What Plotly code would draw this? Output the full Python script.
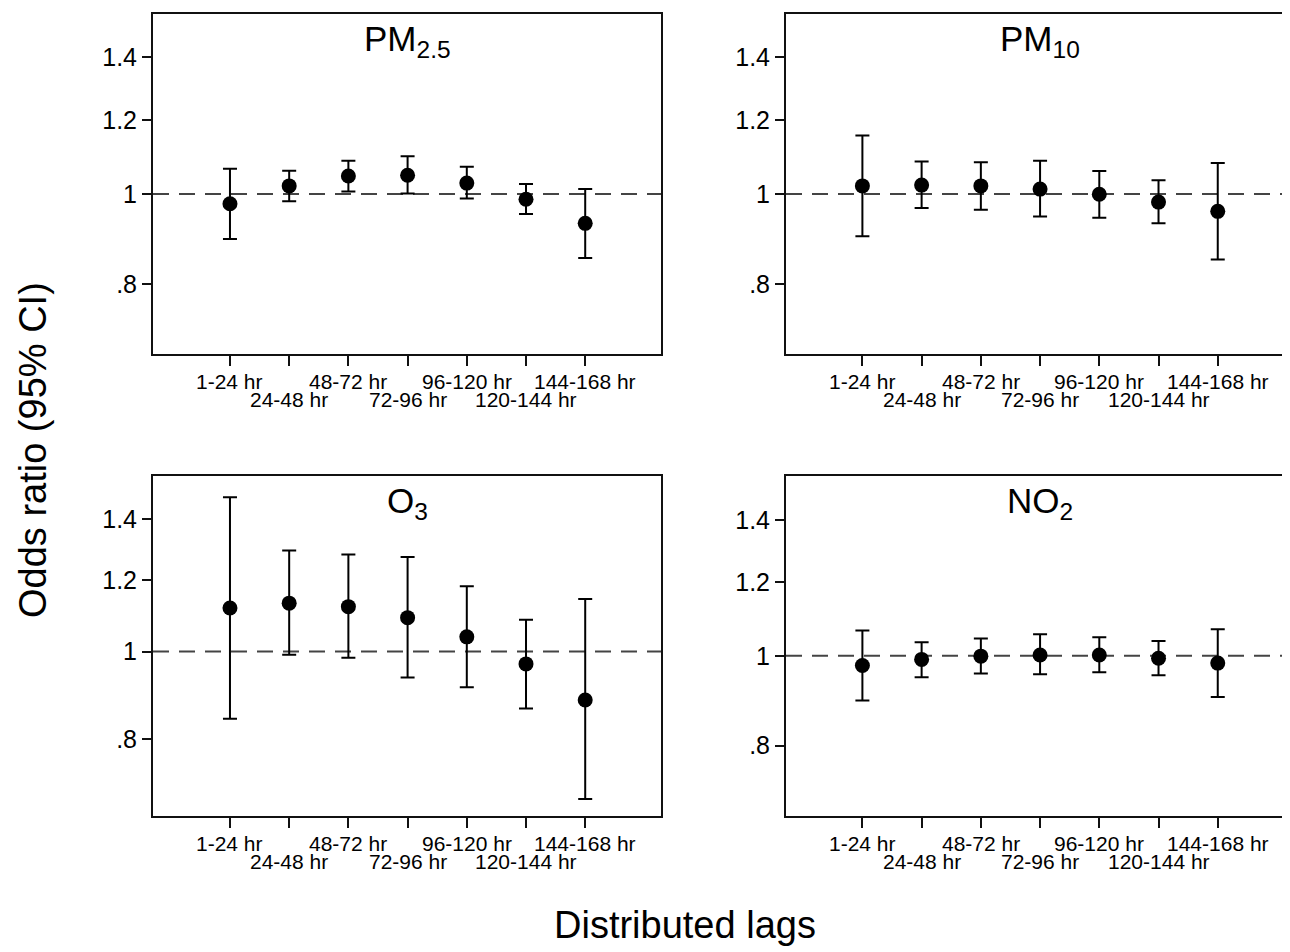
import math
import plotly.graph_objects as go

# ---------------- data ----------------
lags = [1, 2, 3, 4, 5, 6, 7]
lag_labels = ["1-24 hr", "24-48 hr", "48-72 hr", "72-96 hr",
              "96-120 hr", "120-144 hr", "144-168 hr"]
y_tick_vals = [0.8, 1.0, 1.2, 1.4]
y_tick_text = [".8", "1", "1.2", "1.4"]
panel_titles = ["PM<sub>2.5</sub>", "PM<sub>10</sub>", "O<sub>3</sub>", "NO<sub>2</sub>"]

pm25_or = [0.976, 1.020, 1.045, 1.047, 1.027, 0.987, 0.930]
pm25_lo = [0.895, 0.982, 1.006, 1.001, 0.989, 0.952, 0.854]
pm25_hi = [1.064, 1.059, 1.085, 1.097, 1.069, 1.025, 1.012]

pm10_or = [1.020, 1.022, 1.020, 1.012, 0.999, 0.980, 0.958]
pm10_lo = [0.901, 0.966, 0.962, 0.946, 0.943, 0.930, 0.851]
pm10_hi = [1.155, 1.083, 1.081, 1.085, 1.058, 1.034, 1.079]

o3_or = [1.117, 1.131, 1.121, 1.090, 1.038, 0.969, 0.884]
o3_lo = [0.843, 0.992, 0.984, 0.936, 0.913, 0.865, 0.687]
o3_hi = [1.481, 1.293, 1.280, 1.272, 1.181, 1.084, 1.143]

no2_or = [0.976, 0.991, 0.999, 1.002, 1.002, 0.994, 0.982]
no2_lo = [0.895, 0.948, 0.957, 0.955, 0.960, 0.953, 0.903]
no2_hi = [1.065, 1.034, 1.044, 1.055, 1.047, 1.037, 1.068]

series = [(pm25_or, pm25_lo, pm25_hi), (pm10_or, pm10_lo, pm10_hi),
          (o3_or, o3_lo, o3_hi), (no2_or, no2_lo, no2_hi)]

# ---------------- layout geometry ----------------
OFF = 8                      # page body margin
W, H = 1290 - OFF, 952 - OFF  # figure size so it fills the window
FONT = "Liberation Sans, Arial, Helvetica, sans-serif"
INK = "#111111"


def px_x(p):
    return (p - OFF) / W


def px_y(p):
    return (H - (p - OFF)) / H


# pixel boxes in the window (left, right, top, bottom)
boxes = [(153, 661, 14, 354), (786, 1290, 14, 354),
         (153, 661, 476, 816), (786, 1290, 476, 816)]
x_ranges = [[-0.30, 8.28], [-0.29, 8.22], [-0.30, 8.28], [-0.29, 8.22]]
y_ranges = [[0.674, 1.558], [0.674, 1.558], [0.658, 1.563], [0.672, 1.562]]

fig = go.Figure()
annotations = []
shapes = []

for i, ((orv, lo, hi), box) in enumerate(zip(series, boxes)):
    n = "" if i == 0 else str(i + 1)
    xa, ya = "x" + n, "y" + n
    fig.add_trace(go.Scatter(
        x=lags, y=orv, mode="markers", xaxis=xa, yaxis=ya,
        marker=dict(size=15, color="black"),
        error_y=dict(type="data", symmetric=False,
                     array=[h - o for h, o in zip(hi, orv)],
                     arrayminus=[o - l for o, l in zip(orv, lo)],
                     color="black", thickness=2, width=7),
        showlegend=False, cliponaxis=False))

    left, right, top, bottom = box
    right_panel = (i % 2 == 1)
    xdom = [px_x(left), min(1.0, px_x(right))]
    ydom = [px_y(bottom), px_y(top)]
    fig.layout["xaxis" + n] = dict(
        domain=xdom, range=x_ranges[i], anchor=ya,
        showline=True, linewidth=2, linecolor=INK, mirror=True,
        ticks="outside", ticklen=10, tickwidth=2, tickcolor=INK,
        tickvals=lags, showticklabels=False,
        showgrid=False, zeroline=False, fixedrange=True)
    fig.layout["yaxis" + n] = dict(
        domain=ydom, type="log",
        range=[math.log10(y_ranges[i][0]), math.log10(y_ranges[i][1])],
        anchor=xa, showline=True, linewidth=2, linecolor=INK,
        mirror=(not right_panel),
        ticks="outside", ticklen=9, tickwidth=2, tickcolor=INK,
        tickvals=y_tick_vals, ticktext=y_tick_text,
        tickfont=dict(size=25, color="black", family=FONT),
        showgrid=False, zeroline=False, fixedrange=True)

    # reference line at OR = 1
    shapes.append(dict(type="line", xref=xa + " domain", yref=ya,
                       x0=0, x1=1, y0=1, y1=1, layer="below",
                       line=dict(color="#444444", width=2, dash="16px,10px")))

    # panel title
    annotations.append(dict(x=4, xref=xa, y=1, yref=ya + " domain",
                            yanchor="middle", yshift=-27, showarrow=False,
                            text=panel_titles[i],
                            font=dict(size=35, color="black", family=FONT)))

    # staggered x tick labels
    for j, (lv, lt) in enumerate(zip(lags, lag_labels)):
        shift = -27 if j % 2 == 0 else -45
        annotations.append(dict(x=lv, xref=xa, y=0, yref=ya + " domain",
                                yanchor="middle", yshift=shift, showarrow=False,
                                text=lt,
                                font=dict(size=21, color="black", family=FONT)))

# overall axis titles
annotations.append(dict(x=px_x(33), y=px_y(450), xref="paper", yref="paper",
                        text="Odds ratio (95% CI)", textangle=-90, showarrow=False,
                        xanchor="center", yanchor="middle",
                        font=dict(size=38, color="black", family=FONT)))
annotations.append(dict(x=px_x(685), y=px_y(925), xref="paper", yref="paper",
                        text="Distributed lags", showarrow=False,
                        xanchor="center", yanchor="middle",
                        font=dict(size=38, color="black", family=FONT)))

fig.update_layout(width=W, height=H, margin=dict(l=0, r=0, t=0, b=0),
                  paper_bgcolor="white", plot_bgcolor="white",
                  font=dict(family=FONT, color="black"),
                  annotations=annotations, shapes=shapes, showlegend=False)

fig.write_html("out.html")
